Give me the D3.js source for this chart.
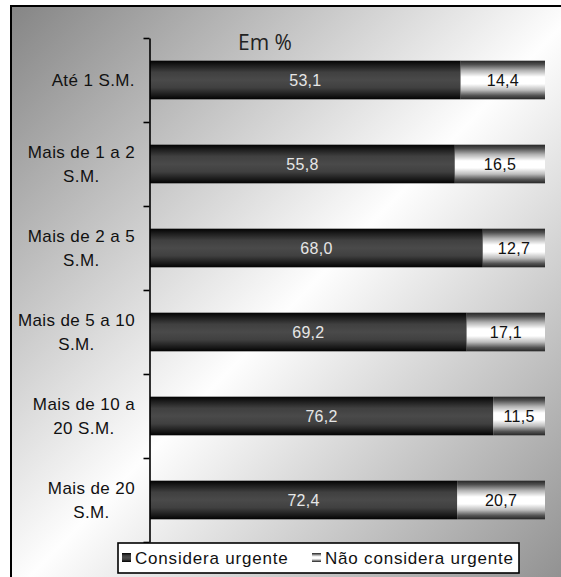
<!DOCTYPE html>
<html>
<head>
<meta charset="utf-8">
<script src="https://cdn.jsdelivr.net/npm/d3@7"></script>
<style>
  html, body { margin: 0; padding: 0; background: #ffffff; }
  svg { display: block; }
</style>
</head>
<body>
<svg id="chart" width="561" height="577"></svg>
<script>
// Income brackets (in minimum wages), one label line per array entry
const categories = [
  ["Até 1 S.M."],
  ["Mais de 1 a 2", "S.M."],
  ["Mais de 2 a 5", "S.M."],
  ["Mais de 5 a 10", "S.M."],
  ["Mais de 10 a", "20 S.M."],
  ["Mais de 20", "S.M."]
];
const urgent    = [53.1, 55.8, 68.0, 69.2, 76.2, 72.4];
const notUrgent = [14.4, 16.5, 12.7, 17.1, 11.5, 20.7];
const seriesNames = ["Considera urgente", "Não considera urgente"];
const unitLabel = "Em %";

const svg = d3.select("#chart");
const defs = svg.append("defs");

// Background: diagonal grey-white-grey sweep
const bg = defs.append("linearGradient").attr("id", "bgGrad")
  .attr("x1", 0).attr("y1", 0).attr("x2", 1).attr("y2", 1);
[[0, "#858585"], [0.5, "#fefefe"], [1, "#8a8a8a"]].forEach(([o, c]) =>
  bg.append("stop").attr("offset", o).attr("stop-color", c));

// Dark bar: black edges, charcoal centre
const dark = defs.append("linearGradient").attr("id", "darkGrad")
  .attr("x1", 0).attr("y1", 0).attr("x2", 0).attr("y2", 1);
[[0, "#020202"], [0.1, "#181818"], [0.3, "#404040"], [0.5, "#4a4a4a"],
 [0.7, "#404040"], [0.9, "#181818"], [1, "#020202"]].forEach(([o, c]) =>
  dark.append("stop").attr("offset", o).attr("stop-color", c));

// Light bar: dark edges, white centre
const light = defs.append("linearGradient").attr("id", "lightGrad")
  .attr("x1", 0).attr("y1", 0).attr("x2", 0).attr("y2", 1);
[[0, "#262626"], [0.1, "#505050"], [0.25, "#b0b0b0"], [0.42, "#ffffff"],
 [0.6, "#ffffff"], [0.76, "#bdbdbd"], [0.9, "#555555"], [1, "#262626"]].forEach(([o, c]) =>
  light.append("stop").attr("offset", o).attr("stop-color", c));

// Chart area with border
svg.append("rect")
  .attr("x", 11).attr("y", 6).attr("width", 570).attr("height", 590)
  .attr("fill", "url(#bgGrad)")
  .attr("stroke", "#000").attr("stroke-width", 2);

const plot = { left: 150, right: 545, top: 38, bottom: 542 };

const y = d3.scaleBand()
  .domain(d3.range(categories.length))
  .range([plot.top, plot.bottom])
  .paddingInner(0.54)
  .paddingOuter(0.27);

// Tick positions sit on the category boundaries
const yEdge = d3.scaleLinear().domain([0, categories.length]).range([plot.top, plot.bottom]);

const x = d3.scaleLinear().domain([0, 1]).range([plot.left, plot.right]);

const fmt = v => d3.format(".1f")(v).replace(".", ",");

const rows = categories.map((c, i) => {
  const total = urgent[i] + notUrgent[i];
  return { i, lines: c, a: urgent[i], b: notUrgent[i], share: urgent[i] / total };
});

const g = svg.append("g");

// Considera urgente segment
g.selectAll("rect.dark").data(rows).join("rect")
  .attr("class", "dark")
  .attr("x", x(0))
  .attr("y", d => y(d.i))
  .attr("width", d => x(d.share) - x(0))
  .attr("height", y.bandwidth())
  .attr("fill", "url(#darkGrad)");

// Não considera urgente segment
g.selectAll("rect.light").data(rows).join("rect")
  .attr("class", "light")
  .attr("x", d => x(d.share))
  .attr("y", d => y(d.i))
  .attr("width", d => x(1) - x(d.share))
  .attr("height", y.bandwidth())
  .attr("fill", "url(#lightGrad)");

// Value labels
const valueFont = sel => sel
  .style("font-family", "'Liberation Sans', Arial, sans-serif")
  .style("font-size", "16px")
  .style("letter-spacing", "0.3px");

g.selectAll("text.va").data(rows).join("text")
  .attr("class", "va")
  .attr("x", d => (x(0) + x(d.share)) / 2)
  .attr("y", d => y(d.i) + y.bandwidth() / 2)
  .attr("dy", "0.36em")
  .attr("text-anchor", "middle")
  .call(valueFont)
  .attr("fill", "#e6e6e6")
  .text(d => fmt(d.a));

g.selectAll("text.vb").data(rows).join("text")
  .attr("class", "vb")
  .attr("x", d => (x(d.share) + x(1)) / 2)
  .attr("y", d => y(d.i) + y.bandwidth() / 2)
  .attr("dy", "0.36em")
  .attr("text-anchor", "middle")
  .call(valueFont)
  .attr("fill", "#111")
  .text(d => fmt(d.b));

// Category axis
const axis = svg.append("g")
  .attr("transform", `translate(${plot.left - 0.5},0)`)
  .call(d3.axisLeft(yEdge)
    .tickValues(d3.range(categories.length + 1))
    .tickSize(6).tickSizeOuter(0).tickFormat(""));
axis.select(".domain").attr("stroke", "#000").attr("stroke-width", 1.6);
axis.selectAll(".tick line").attr("stroke", "#000").attr("stroke-width", 1.6);

// Category labels: block right-aligned to the axis, lines centred within it
const labelRight = 135;
const lineH = 24;
const labels = svg.append("g")
  .style("font-family", "'Liberation Sans', Arial, sans-serif")
  .style("font-size", "17px")
  .style("letter-spacing", "0.4px")
  .attr("fill", "#111");

rows.forEach(d => {
  const t = labels.append("text").attr("text-anchor", "middle");
  const cy = y(d.i) + y.bandwidth() / 2;
  const n = d.lines.length;
  const spans = d.lines.map((line, k) =>
    t.append("tspan")
      .attr("y", cy + (k - (n - 1) / 2) * lineH)
      .attr("dy", "0.35em")
      .text(line));
  const w = d3.max(spans, s => s.node().getComputedTextLength());
  spans.forEach(s => s.attr("x", labelRight - w / 2));
});

// Unit caption
svg.append("text")
  .attr("x", 238).attr("y", 50)
  .style("font-family", "'Open Sans', 'Noto Sans', sans-serif")
  .style("font-size", "21px")
  .attr("fill", "#222")
  .text(unitLabel);

// Legend
const leg = svg.append("g");
leg.append("rect")
  .attr("x", 118).attr("y", 543).attr("width", 401).attr("height", 30)
  .attr("fill", "#fff").attr("stroke", "#000").attr("stroke-width", 1.6);

const legItems = [
  { name: seriesNames[0], fill: "url(#darkGrad)", sx: 122, tx: 135 },
  { name: seriesNames[1], fill: "url(#lightGrad)", sx: 312, tx: 325 }
];
legItems.forEach(it => {
  leg.append("rect")
    .attr("x", it.sx).attr("y", 553).attr("width", 9).attr("height", 9)
    .attr("fill", it.fill);
  leg.append("text")
    .attr("x", it.tx).attr("y", 564)
    .style("font-family", "'Liberation Sans', Arial, sans-serif")
    .style("font-size", "17px")
    .style("letter-spacing", "0.8px")
    .attr("fill", "#111")
    .text(it.name);
});
</script>
</body>
</html>
